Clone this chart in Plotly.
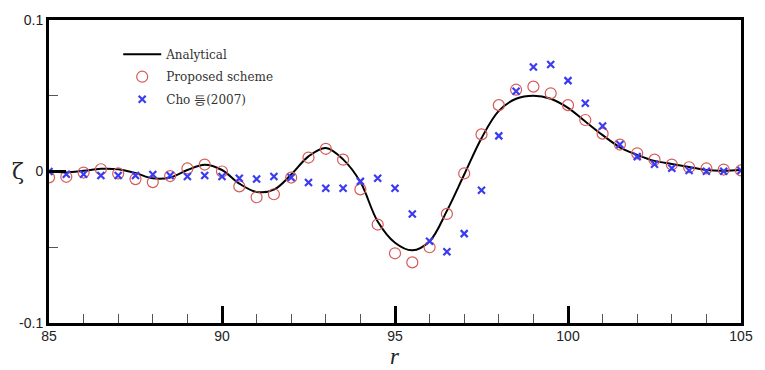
import plotly.graph_objects as go

# Analytical solution
r_ana = [85, 85.5, 86, 86.5, 87, 87.5, 88, 88.5, 89, 89.5, 90, 90.5, 91, 91.5, 92,
         92.5, 93, 93.5, 94, 94.5, 95, 95.5, 96, 96.5, 97, 97.5, 98, 98.5, 99, 99.5,
         100, 100.5, 101, 101.5, 102, 102.5, 103, 103.5, 104, 104.5, 105]
z_ana = [0.0, -0.0005, 0.0005, 0.0018, 0.0015, -0.001, -0.0045, -0.004, 0.001, 0.0045,
         0.001, -0.008, -0.0135, -0.012, -0.002, 0.010, 0.0155, 0.008, -0.007, -0.033,
         -0.047, -0.052, -0.046, -0.026, -0.002, 0.022, 0.040, 0.048, 0.050, 0.048,
         0.042, 0.033, 0.024, 0.016, 0.011, 0.007, 0.005, 0.003, 0.001, 0.0005, 0.001]

# Sample positions of the numerical results
r_pts = [85, 85.5, 86, 86.5, 87, 87.5, 88, 88.5, 89, 89.5, 90, 90.5, 91, 91.5, 92,
         92.5, 93, 93.5, 94, 94.5, 95, 95.5, 96, 96.5, 97, 97.5, 98, 98.5, 99, 99.5,
         100, 100.5, 101, 101.5, 102, 102.5, 103, 103.5, 104, 104.5, 105]

# Proposed scheme
z_prop = [-0.0039, -0.0035, -0.0007, 0.0015, -0.0013, -0.005, -0.007, -0.003, 0.002, 0.0046,
          0.0, -0.0098, -0.017, -0.015, -0.004, 0.0092, 0.015, 0.0078, -0.0118, -0.035,
          -0.054, -0.060, -0.050, -0.028, -0.0013, 0.0245, 0.0438, 0.054, 0.056, 0.0516,
          0.0438, 0.034, 0.025, 0.0178, 0.012, 0.0078, 0.0046, 0.0028, 0.002, 0.0013, 0.0007]

# Cho et al. (2007)
z_cho = [0.0, -0.0018, -0.0018, -0.0026, -0.0026, -0.0026, -0.002, -0.0026, -0.0033, -0.0026,
         -0.0033, -0.0044, -0.005, -0.0033, -0.0039, -0.0072, -0.011, -0.011, -0.0065, -0.0044,
         -0.011, -0.028, -0.046, -0.053, -0.041, -0.0124, 0.0235, 0.053, 0.069, 0.0706,
         0.060, 0.045, 0.030, 0.0178, 0.0098, 0.0048, 0.0022, 0.0007, 0.0002, 0.0002, 0.0007]

x_ticks = [85, 90, 95, 100, 105]
y_ticks = [-0.1, 0, 0.1]
y_tick_text = ["-0.1", "0", "0.1"]

fig = go.Figure()
fig.add_trace(go.Scatter(x=r_ana, y=z_ana, mode="lines", name="Analytical", legendgroup="a",
                         line=dict(color="black", width=2, shape="spline", smoothing=1.0)))
fig.add_trace(go.Scatter(x=r_pts, y=z_prop, mode="markers", name="Proposed scheme", legendgroup="b",
                         marker=dict(symbol="circle-open", size=11,
                                     color="#d65a5a", line=dict(width=1.2, color="#d65a5a"))))
fig.add_trace(go.Scatter(x=r_pts, y=z_cho, mode="markers", name="Cho 등(2007)", legendgroup="c",
                         marker=dict(symbol="x-thin-open", size=7,
                                     color="#3b3bf0", line=dict(width=2.2, color="#3b3bf0"))))

axis_common = dict(showgrid=False, zeroline=False, showline=True, linecolor="black",
                   linewidth=3, mirror=True, ticks="inside", tickcolor="black",
                   tickfont=dict(family="Liberation Sans, Arial", size=14, color="#222"))

fig.update_xaxes(range=[85, 105], tickvals=x_ticks, ticklen=17, tickwidth=2.5,
                 ticklabelstandoff=-2,
                 minor=dict(dtick=1, ticklen=9, tickwidth=1, tickcolor="#555", ticks="inside"),
                 **axis_common)
fig.update_yaxes(range=[-0.1, 0.1], tickvals=y_ticks, ticktext=y_tick_text, ticklen=17,
                 tickwidth=2.5,
                 minor=dict(dtick=0.05, ticklen=9, tickwidth=1, tickcolor="#555", ticks="inside"),
                 **axis_common)

fig.add_annotation(text="ζ", xref="paper", yref="paper", x=-0.045, y=0.5, showarrow=False,
                   xanchor="center", yanchor="middle",
                   font=dict(family="DejaVu Serif", size=22, color="#222"))
fig.add_annotation(text="<i>r</i>", xref="paper", yref="paper", x=0.5, y=-0.11, showarrow=False,
                   xanchor="center", yanchor="middle",
                   font=dict(family="Liberation Serif, Times New Roman", size=23, color="#222"))

fig.update_layout(
    width=765, height=370,
    margin=dict(l=49, r=19, t=16, b=47),
    plot_bgcolor="white", paper_bgcolor="white",
    legend=dict(x=0.1, y=0.935, xanchor="left", yanchor="top", bgcolor="rgba(0,0,0,0)",
                font=dict(family="DejaVu Serif", size=12, color="#333"), itemwidth=38,
                tracegroupgap=3.5),
    showlegend=True,
)

fig.write_html("out.html", config={"displayModeBar": False},
               post_script="document.body.style.margin='0';")
